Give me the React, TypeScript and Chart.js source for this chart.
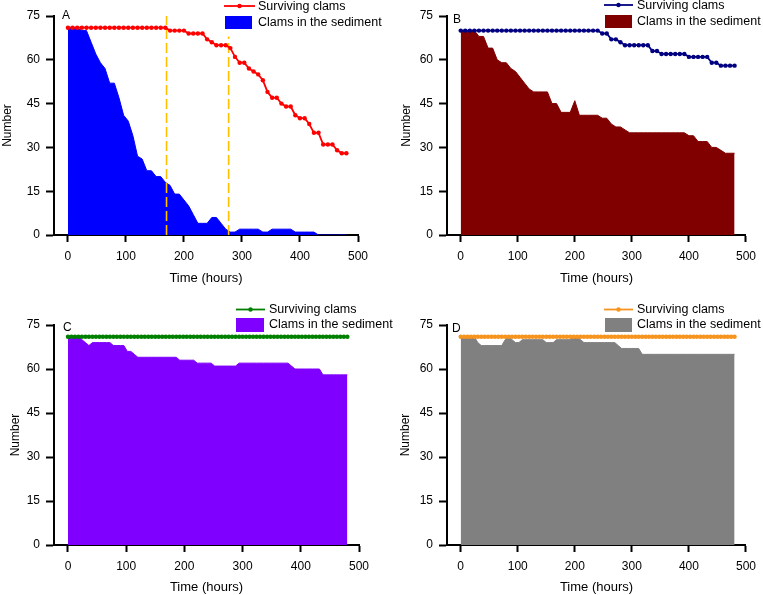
import React, { useEffect, useRef } from "react";
import { Chart, registerables } from "chart.js";

Chart.register(...registerables);

const FONT = "'Liberation Sans', Arial, Helvetica, sans-serif";

const X_TICKS = [0, 100, 200, 300, 400, 500];
const Y_TICKS = [0, 15, 30, 45, 60, 75];

const T8 = [
  0, 8, 16, 24, 32, 40, 48, 56, 64, 72,
  80, 88, 96, 104, 112, 120, 128, 136, 144, 152,
  160, 168, 176, 184, 192, 200, 208, 216, 224, 232,
  240, 248, 256, 264, 272, 280, 288, 296, 304, 312,
  320, 328, 336, 344, 352, 360, 368, 376, 384, 392,
  400, 408, 416, 424, 432, 440, 448, 456, 464, 472,
  480,
];

const T6 = [
  0, 6, 12, 18, 24, 30, 36, 42, 48, 54,
  60, 66, 72, 78, 84, 90, 96, 102, 108, 114,
  120, 126, 132, 138, 144, 150, 156, 162, 168, 174,
  180, 186, 192, 198, 204, 210, 216, 222, 228, 234,
  240, 246, 252, 258, 264, 270, 276, 282, 288, 294,
  300, 306, 312, 318, 324, 330, 336, 342, 348, 354,
  360, 366, 372, 378, 384, 390, 396, 402, 408, 414,
  420, 426, 432, 438, 444, 450, 456, 462, 468, 474,
  480,
];

const A_SURV = [
  71, 71, 71, 71, 71, 71, 71, 71, 71, 71,
  71, 71, 71, 71, 71, 71, 71, 71, 71, 71,
  71, 71, 70, 70, 70, 70, 69, 69, 69, 69,
  67, 66, 65, 65, 65, 64, 61, 59, 59, 57,
  56, 55, 53, 49, 47, 47, 45, 44, 44, 41,
  40, 40, 38, 35, 35, 31, 31, 31, 29, 28,
  28,
];
const A_SED = [
  71, 71, 71, 70, 70, 66, 62, 59, 57, 52,
  52, 47, 41, 39, 34, 27, 26, 22, 22, 20,
  20, 18, 17, 14, 14, 12, 10, 7, 4, 4,
  4, 6, 6, 4, 2, 1, 1, 2, 2, 2,
  2, 2, 1, 1, 2, 2, 2, 2, 2, 1,
  1, 1, 1, 1, 0, 0, 0, 0, 0, 0,
  0,
];
const A_MARKER_X = [170, 277];
const A_MARKER_TOP = [75, 68];

const B_SURV = [
  70, 70, 70, 70, 70, 70, 70, 70, 70, 70,
  70, 70, 70, 70, 70, 70, 70, 70, 70, 70,
  70, 70, 70, 70, 70, 70, 70, 70, 70, 70,
  70, 69, 69, 67, 67, 66, 65, 65, 65, 65,
  65, 65, 63, 63, 62, 62, 62, 62, 62, 62,
  61, 61, 61, 61, 61, 59, 59, 58, 58, 58,
  58,
];
const B_SED = [
  70, 70, 70, 70, 68, 68, 64, 64, 60, 59,
  59, 57, 56, 54, 52, 50, 49, 49, 49, 49,
  45, 45, 42, 42, 42, 46, 41, 41, 41, 41,
  41, 40, 40, 38, 37, 37, 36, 35, 35, 35,
  35, 35, 35, 35, 35, 35, 35, 35, 35, 35,
  34, 34, 32, 32, 32, 30, 30, 29, 28, 28,
  28,
];

const C_SURV = [
  71, 71, 71, 71, 71, 71, 71, 71, 71, 71,
  71, 71, 71, 71, 71, 71, 71, 71, 71, 71,
  71, 71, 71, 71, 71, 71, 71, 71, 71, 71,
  71, 71, 71, 71, 71, 71, 71, 71, 71, 71,
  71, 71, 71, 71, 71, 71, 71, 71, 71, 71,
  71, 71, 71, 71, 71, 71, 71, 71, 71, 71,
  71, 71, 71, 71, 71, 71, 71, 71, 71, 71,
  71, 71, 71, 71, 71, 71, 71, 71, 71, 71,
  71,
];
const C_SED = [
  71, 71, 71, 71, 70, 69, 68, 69, 69, 69,
  69, 69, 69, 68, 68, 68, 68, 66, 66, 65,
  64, 64, 64, 64, 64, 64, 64, 64, 64, 64,
  64, 64, 63, 63, 63, 63, 63, 62, 62, 62,
  62, 62, 61, 61, 61, 61, 61, 61, 61, 62,
  62, 62, 62, 62, 62, 62, 62, 62, 62, 62,
  62, 62, 62, 62, 61, 60, 60, 60, 60, 60,
  60, 60, 60, 58, 58, 58, 58, 58, 58, 58,
  58,
];

const D_SURV = [
  71, 71, 71, 71, 71, 71, 71, 71, 71, 71,
  71, 71, 71, 71, 71, 71, 71, 71, 71, 71,
  71, 71, 71, 71, 71, 71, 71, 71, 71, 71,
  71, 71, 71, 71, 71, 71, 71, 71, 71, 71,
  71, 71, 71, 71, 71, 71, 71, 71, 71, 71,
  71, 71, 71, 71, 71, 71, 71, 71, 71, 71,
  71, 71, 71, 71, 71, 71, 71, 71, 71, 71,
  71, 71, 71, 71, 71, 71, 71, 71, 71, 71,
  71,
];
const D_SED = [
  71, 71, 71, 71, 71, 69, 68, 68, 68, 68,
  68, 68, 68, 70, 71, 70, 69, 69, 70, 70,
  70, 70, 70, 70, 70, 69, 69, 69, 70, 70,
  70, 70, 70, 71, 71, 70, 69, 69, 69, 69,
  69, 69, 69, 69, 69, 69, 68, 67, 67, 67,
  67, 67, 67, 65, 65, 65, 65, 65, 65, 65,
  65, 65, 65, 65, 65, 65, 65, 65, 65, 65,
  65, 65, 65, 65, 65, 65, 65, 65, 65, 65,
  65,
];

const LINE_LABEL = "Surviving clams";
const AREA_LABEL = "Clams in the sediment";

type Panel = {
  letter: string;
  times: number[];
  surv: number[];
  sed: number[];
  lineColor: string;
  areaColor: string;
  markers?: { x: number[]; top: number[] };
  left: number;
  top: number;
  w: number;
  h: number;
  pad: { left: number; top: number; right: number; bottom: number };
  yW: number;
  xH: number;
  letterPos: [number, number];
  legend: { lx0: number; lx1: number; ly: number; tx: number; ty1: number; rx0: number; rx1: number; ry0: number; ry1: number; ty2: number };
};

const PANELS: Panel[] = [
  {
    letter: "A", times: T8, surv: A_SURV, sed: A_SED,
    lineColor: "#ff0000", areaColor: "#0000ff",
    markers: { x: A_MARKER_X, top: A_MARKER_TOP },
    left: 0, top: 0, w: 405, h: 294,
    pad: { left: 0, top: 16, right: 47, bottom: 8 }, yW: 54, xH: 51,
    letterPos: [62, 16],
    legend: { lx0: 224, lx1: 255, ly: 6, tx: 258, ty1: 6.5, rx0: 225, rx1: 252, ry0: 16, ry1: 29, ty2: 22.5 },
  },
  {
    letter: "B", times: T8, surv: B_SURV, sed: B_SED,
    lineColor: "#000080", areaColor: "#800000",
    left: 381, top: 0, w: 382, h: 294,
    pad: { left: 18, top: 16, right: 11, bottom: 8 }, yW: 48, xH: 51,
    letterPos: [72, 20],
    legend: { lx0: 223, lx1: 252, ly: 5, tx: 256, ty1: 6, rx0: 224, rx1: 251, ry0: 15, ry1: 28, ty2: 21.5 },
  },
  {
    letter: "C", times: T6, surv: C_SURV, sed: C_SED,
    lineColor: "#008000", areaColor: "#8000ff",
    left: 0, top: 294, w: 405, h: 301,
    pad: { left: 8, top: 31, right: 46, bottom: 0 }, yW: 46, xH: 50,
    letterPos: [63, 34],
    legend: { lx0: 236, lx1: 265, ly: 15.5, tx: 269, ty1: 16, rx0: 236, rx1: 264, ry0: 24, ry1: 38, ty2: 31 },
  },
  {
    letter: "D", times: T6, surv: D_SURV, sed: D_SED,
    lineColor: "#f7941d", areaColor: "#808080",
    left: 381, top: 294, w: 382, h: 301,
    pad: { left: 17, top: 31, right: 11, bottom: 0 }, yW: 49, xH: 50,
    letterPos: [71, 35],
    legend: { lx0: 223, lx1: 252, ly: 15.5, tx: 256, ty1: 16, rx0: 224, rx1: 251, ry0: 24, ry1: 38, ty2: 31 },
  },
];

const overlayPlugin = {
  id: "panelOverlay",
  afterDraw(chart: any, _args: any, opts: any) {
    const ctx = chart.ctx as CanvasRenderingContext2D;
    const p: Panel = opts.panel;
    if (!p) return;
    const lg = p.legend;
    ctx.save();
    ctx.fillStyle = "#000";
    ctx.font = `12px ${FONT}`;
    ctx.textBaseline = "middle";
    ctx.textAlign = "left";
    ctx.fillText(p.letter, p.letterPos[0], p.letterPos[1]);
    ctx.strokeStyle = p.lineColor;
    ctx.lineWidth = 1.8;
    ctx.beginPath();
    ctx.moveTo(lg.lx0, lg.ly);
    ctx.lineTo(lg.lx1, lg.ly);
    ctx.stroke();
    ctx.fillStyle = p.lineColor;
    ctx.beginPath();
    ctx.arc((lg.lx0 + lg.lx1) / 2, lg.ly, 2.2, 0, Math.PI * 2);
    ctx.fill();
    ctx.fillStyle = p.areaColor;
    ctx.fillRect(lg.rx0, lg.ry0, lg.rx1 - lg.rx0, lg.ry1 - lg.ry0);
    ctx.fillStyle = "#000";
    ctx.font = `12.5px ${FONT}`;
    ctx.fillText(LINE_LABEL, lg.tx, lg.ty1);
    ctx.fillText(AREA_LABEL, lg.tx, lg.ty2);
    ctx.restore();
  },
};

function PanelChart({ p }: { p: Panel }) {
  const ref = useRef<HTMLCanvasElement>(null);
  useEffect(() => {
    if (!ref.current) return;
    const datasets: any[] = [
      {
        label: LINE_LABEL,
        data: p.times.map((t, i) => ({ x: t, y: p.surv[i] })),
        borderColor: p.lineColor,
        backgroundColor: p.lineColor,
        borderWidth: 1.8,
        pointRadius: 2.2,
        pointBorderWidth: 0,
        pointBackgroundColor: p.lineColor,
        fill: false,
        tension: 0,
        order: 0,
      },
    ];
    if (p.markers) {
      p.markers.x.forEach((mx, i) => {
        datasets.push({
          label: "marker" + i,
          data: [{ x: mx, y: 0 }, { x: mx, y: p.markers!.top[i] }],
          borderColor: "#ffc000",
          borderWidth: 1.6,
          borderDash: [10, 4],
          pointRadius: 0,
          fill: false,
          order: 1,
        });
      });
    }
    datasets.push({
      label: AREA_LABEL,
      data: p.times.map((t, i) => ({ x: t, y: p.sed[i] })),
      borderColor: p.areaColor,
      backgroundColor: p.areaColor,
      borderWidth: 1,
      pointRadius: 0,
      fill: "origin",
      tension: 0,
      order: 2,
    });
    const tickFont = { family: FONT, size: 12 };
    const chart = new Chart(ref.current, {
      type: "line",
      data: { datasets },
      plugins: [overlayPlugin as any],
      options: {
        animation: false,
        responsive: false,
        events: [],
        layout: { padding: p.pad },
        plugins: {
          legend: { display: false },
          tooltip: { enabled: false },
          panelOverlay: { panel: p },
        } as any,
        scales: {
          x: {
            type: "linear",
            min: -24,
            max: 500,
            afterBuildTicks: (s: any) => {
              s.ticks = X_TICKS.map((v) => ({ value: v }));
            },
            afterFit: (s: any) => {
              s.height = p.xH;
            },
            grid: { display: true, drawOnChartArea: false, drawTicks: true, tickLength: 7, tickWidth: 2, tickColor: "#000" },
            border: { display: true, color: "#000", width: 2 },
            ticks: { color: "#000", font: tickFont, padding: 7, maxRotation: 0, autoSkip: false },
            title: { display: true, text: "Time (hours)", color: "#000", font: { family: FONT, size: 13 }, padding: 0 },
          },
          y: {
            type: "linear",
            min: 0,
            max: 75,
            afterBuildTicks: (s: any) => {
              s.ticks = Y_TICKS.map((v) => ({ value: v }));
            },
            afterFit: (s: any) => {
              s.width = p.yW;
            },
            grid: { display: true, drawOnChartArea: false, drawTicks: true, tickLength: 8, tickWidth: 2, tickColor: "#000" },
            border: { display: true, color: "#000", width: 2 },
            ticks: { color: "#000", font: tickFont, padding: 6, autoSkip: false },
            title: { display: true, text: "Number", color: "#000", font: { family: FONT, size: 12 }, padding: 0 },
          },
        },
      } as any,
    });
    return () => chart.destroy();
  }, [p]);
  return (
    <canvas
      ref={ref}
      width={p.w}
      height={p.h}
      style={{ position: "absolute", left: p.left, top: p.top, width: p.w, height: p.h }}
    />
  );
}

export default function App() {
  return (
    <div style={{ position: "fixed", left: 0, top: 0, width: 763, height: 595, background: "#fff" }}>
      {PANELS.map((p) => (
        <PanelChart key={p.letter} p={p} />
      ))}
    </div>
  );
}
